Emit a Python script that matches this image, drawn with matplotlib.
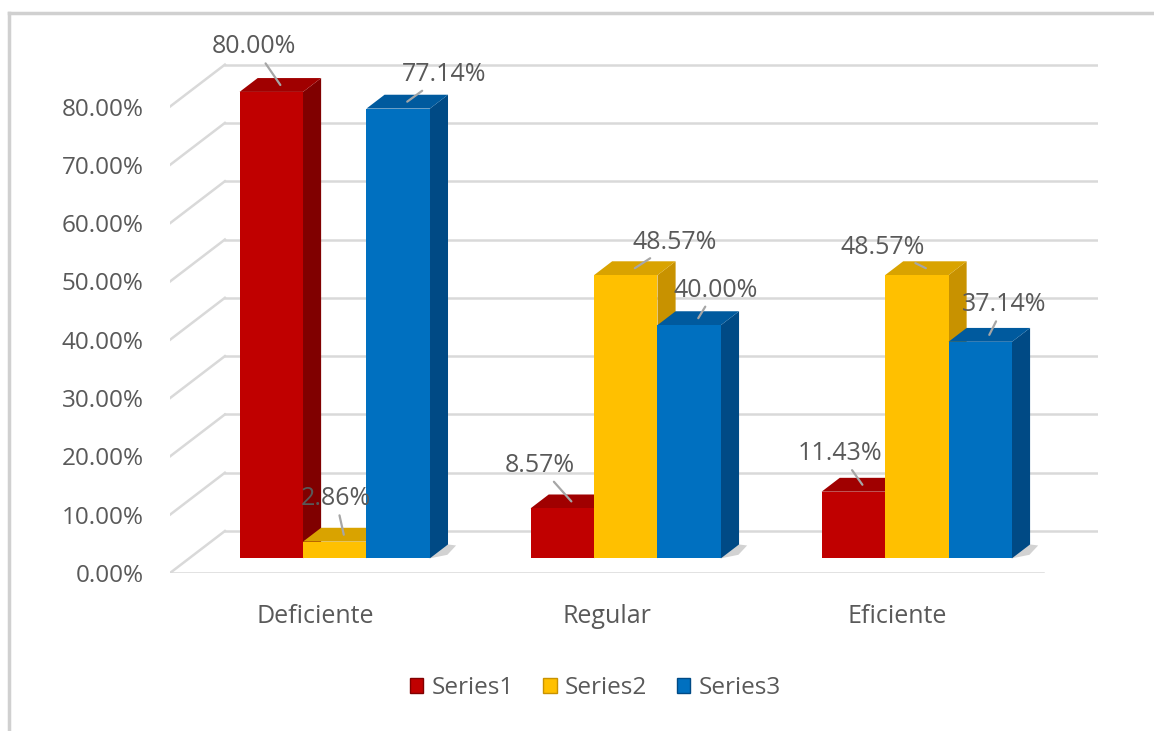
import matplotlib
matplotlib.use("Agg")
import matplotlib.pyplot as plt
from matplotlib.patches import Polygon, Patch
from matplotlib.lines import Line2D

categories = ["Deficiente", "Regular", "Eficiente"]
series_names = ["Series1", "Series2", "Series3"]
series1 = [80.00, 8.57, 11.43]
series2 = [2.86, 48.57, 48.57]
series3 = [77.14, 40.00, 37.14]
yticks = [0, 10, 20, 30, 40, 50, 60, 70, 80]

# face colours: front, side, top
colors = [("#C00000", "#800000", "#A00000"),
          ("#FFC000", "#C89200", "#D9A300"),
          ("#0070C0", "#004A85", "#005A9E")]

# label offsets in pixels from the top of each bar
label_off = [[(-26, 38), (-32, 36), (-22, 31)],
             [(-8, 36), (40, 26), (-43, 21)],
             [(37, 27), (17, 28), (15, 30)]]

DX = 0.1886   # depth of the plot in x units
DY = 7.2      # depth of the plot in y units
T0 = 0.35     # where the bars start in depth
TB = 0.33     # bar depth
W = 0.218     # bar width

txt = "#595959"
grid = "#D9D9D9"
plt.rcParams["font.family"] = ["Open Sans", "DejaVu Sans"]

fig = plt.figure(figsize=(11.54, 7.31), dpi=100)
ax = fig.add_axes([170 / 1154, 158 / 731, 928 / 1154, 90 * 5.83 / 731])
ax.set_xlim(-0.5, 2.5 + DX)
ax.set_ylim(0, 90)
for s in ax.spines.values():
    s.set_visible(False)
ax.patch.set_alpha(0)

# walls and floor
for v in yticks:
    ax.plot([-0.5 + DX, 2.5 + DX], [v + DY, v + DY], color=grid, lw=1.8, zorder=1)
    ax.plot([-0.5, -0.5 + DX], [v, v + DY], color=grid, lw=1.8, zorder=1)
ax.plot([-0.5, 2.5], [0, 0], color=grid, lw=1.8, zorder=1)

all_series = [series1, series2, series3]
for i in range(len(categories)):
    # soft shadow behind the group
    xs = i + 1.5 * W + T0 * DX
    ys = T0 * DY
    ax.add_patch(Polygon([(xs, ys), (xs + 0.06, ys + 0.6), (xs + 0.09, ys + 2.2),
                          (xs + TB * DX, ys + TB * DY), (xs - 0.02, ys + 0.2)],
                         closed=True, color="#BFBFBF", alpha=0.7, lw=0, zorder=2))
    for k, vals in enumerate(all_series):
        v = vals[i]
        x0 = i + (k - 1.5) * W + T0 * DX
        y0 = T0 * DY
        dx, dy = TB * DX, TB * DY
        front, side, top = colors[k]
        z = 3 + k
        ax.add_patch(Polygon([(x0 + W, y0), (x0 + W + dx, y0 + dy),
                              (x0 + W + dx, y0 + dy + v), (x0 + W, y0 + v)],
                             closed=True, color=side, lw=0, zorder=z))
        ax.add_patch(Polygon([(x0, y0 + v), (x0 + W, y0 + v),
                              (x0 + W + dx, y0 + v + dy), (x0 + dx, y0 + v + dy)],
                             closed=True, color=top, lw=0, zorder=z))
        ax.add_patch(Polygon([(x0, y0), (x0 + W, y0), (x0 + W, y0 + v), (x0, y0 + v)],
                             closed=True, color=front, lw=0, zorder=z))
        tx, ty = x0 + W / 2 + dx / 2, y0 + v + dy / 2
        ax.annotate(f"{v:.2f}%", xy=(tx, ty), xytext=label_off[k][i],
                    textcoords="offset pixels", ha="center", va="center",
                    fontsize=18, color=txt, zorder=10,
                    arrowprops=dict(arrowstyle="-", color="#A6A6A6", lw=1.6,
                                    shrinkA=1, shrinkB=0))

ax.set_yticks(yticks)
ax.set_yticklabels([f"{v:.2f}%" for v in yticks])
ax.set_xticks(range(len(categories)))
ax.set_xticklabels(categories)
ax.tick_params(axis="y", length=0, pad=19, labelsize=17.5, labelcolor=txt)
ax.tick_params(axis="x", length=0, pad=22, labelsize=18, labelcolor=txt)

handles = [Patch(facecolor=c[0], edgecolor=c[1], lw=1) for c in colors]
fig.legend(handles, series_names, loc="center", bbox_to_anchor=(0.516, 0.059),
           ncol=3, frameon=False, fontsize=17.5, labelcolor=txt,
           handlelength=0.55, handleheight=0.55, handletextpad=0.35, columnspacing=1.2)

# outer frame
fig.add_artist(Line2D([9 / 1154, 1], [1 - 13 / 731, 1 - 13 / 731], color="#D0D0D0", lw=2.5))
fig.add_artist(Line2D([9 / 1154, 9 / 1154], [0, 1 - 13 / 731], color="#D0D0D0", lw=2.5))

fig.savefig("out.png", dpi=100, facecolor="white")
